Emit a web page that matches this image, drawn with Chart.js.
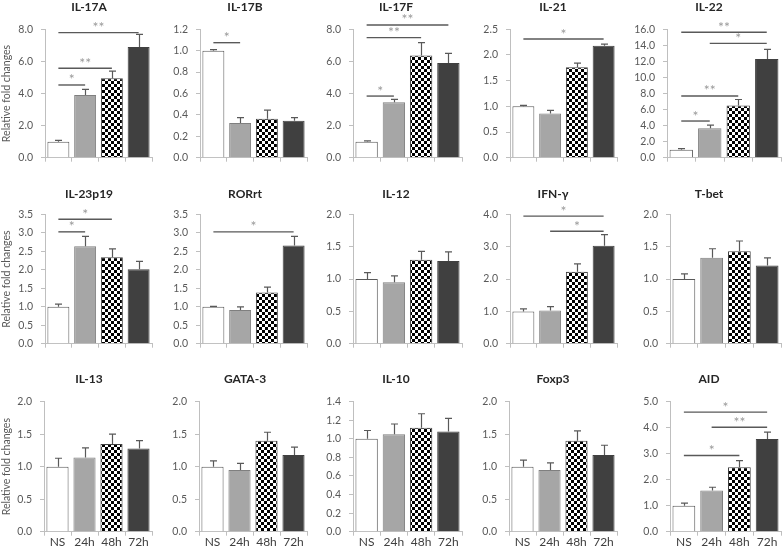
<!DOCTYPE html>
<html><head><meta charset="utf-8">
<script src="https://cdn.jsdelivr.net/npm/chart.js@4"></script>
<style>
html,body{margin:0;padding:0;background:#fff;}
body{width:784px;height:546px;overflow:hidden;position:relative;}
canvas{position:absolute;}
</style></head>
<body>
<script>
// ---------------- DATA ----------------
const categories = ['NS', '24h', '48h', '72h'];
const genes = ['IL-17A','IL-17B','IL-17F','IL-21','IL-22',
               'IL-23p19','RORrt','IL-12','IFN-γ','T-bet',
               'IL-13','GATA-3','IL-10','Foxp3','AID'];
const yMax  = [8, 1.2, 8, 2.5, 16,  3.5, 3.5, 2, 4, 2,  2, 2, 1.4, 2, 5];
const yStep = [2, 0.2, 2, 0.5, 2,   0.5, 0.5, 0.5, 1, 0.5,  0.5, 0.5, 0.2, 0.5, 1];
const means = [
  [1.00, 3.90, 4.95, 6.90],
  [1.00, 0.325, 0.365, 0.345],
  [1.00, 3.45, 6.37, 5.90],
  [1.00, 0.86, 1.76, 2.18],
  [1.00, 3.66, 6.50, 12.30],
  [1.00, 2.64, 2.34, 2.02],
  [1.00, 0.91, 1.39, 2.66],
  [1.00, 0.95, 1.30, 1.28],
  [1.00, 1.03, 2.23, 3.03],
  [1.00, 1.33, 1.43, 1.21],
  [1.00, 1.14, 1.35, 1.28],
  [1.00, 0.95, 1.40, 1.18],
  [1.00, 1.05, 1.12, 1.08],
  [1.00, 0.95, 1.40, 1.18],
  [1.00, 1.58, 2.48, 3.57]
];
const errors = [
  [0.08, 0.36, 0.45, 0.79],
  [0.01, 0.05, 0.08, 0.03],
  [0.05, 0.18, 0.80, 0.60],
  [0.02, 0.06, 0.08, 0.03],
  [0.12, 0.40, 0.75, 1.20],
  [0.07, 0.27, 0.23, 0.21],
  [0.01, 0.09, 0.14, 0.25],
  [0.10, 0.10, 0.13, 0.14],
  [0.08, 0.12, 0.24, 0.35],
  [0.08, 0.14, 0.16, 0.12],
  [0.13, 0.15, 0.15, 0.12],
  [0.09, 0.10, 0.13, 0.12],
  [0.09, 0.11, 0.15, 0.14],
  [0.10, 0.11, 0.15, 0.15],
  [0.10, 0.13, 0.25, 0.26]
];
// significance brackets: [fromIndex, toIndex, yValue, mark]
const significance = [
  [[0,1,4.53,'*'],[0,2,5.57,'**'],[0,3,7.79,'**']],
  [[0,1,1.075,'*']],
  [[0,1,3.84,'*'],[0,2,7.48,'**'],[0,3,8.27,'**']],
  [[0,3,2.31,'*']],
  [[0,1,4.57,'*'],[0,2,7.69,'**'],[1,3,14.25,'*'],[0,3,15.63,'**']],
  [[0,1,3.03,'*'],[0,2,3.37,'*']],
  [[0,3,3.03,'*']],
  [],
  [[0,3,3.95,'*'],[1,3,3.48,'*']],
  [],
  [],
  [],
  [],
  [],
  [[0,2,2.93,'*'],[1,3,4.02,'**'],[0,3,4.6,'*']]
];
const yTitle = 'Relative fold changes';

// ---------------- LAYOUT ----------------
const rowTop = [0, 180, 360];
const rowH = [180, 180, 186];
const plotTopRel = [29.3, 34.5, 41.7];
const plotBotRel = [157.7, 163.7, 171.7];
const titleYRel = [7.5, 14, 19];
const axisXs = [[45,200,353,510,667],[45,200,353,510,670],[44,199,353,509,670]];
const rightXs = [152, 307, 462, 617, 781];
const titleCX = [89, 245, 396, 553, 709];

function makeChecker() {
  const c = document.createElement('canvas');
  c.width = 6; c.height = 6;
  const g = c.getContext('2d');
  g.fillStyle = '#ffffff'; g.fillRect(0,0,6,6);
  g.fillStyle = '#000000'; g.fillRect(0,0,3,3); g.fillRect(3,3,3,3);
  return g.createPattern(c, 'repeat');
}

const annotPlugin = {
  id: 'annot',
  afterDatasetsDraw(chart) {
    const o = chart.options.plugins.annot;
    const ctx = chart.ctx, xs = chart.scales.x, ys = chart.scales.y;
    ctx.save();
    // error bars
    ctx.strokeStyle = '#595959'; ctx.lineWidth = 1.2;
    o.means.forEach((m, i) => {
      const px = Math.round(xs.getPixelForValue(i)) + 0.5;
      const y0 = ys.getPixelForValue(m), y1 = ys.getPixelForValue(m + o.errs[i]);
      ctx.beginPath();
      ctx.moveTo(px, y0); ctx.lineTo(px, y1);
      ctx.moveTo(px - 3.5, y1); ctx.lineTo(px + 3.5, y1);
      ctx.stroke();
    });
    // significance brackets
    o.sigs.forEach(([a, b, v, t]) => {
      const xa = xs.getPixelForValue(a), xb = xs.getPixelForValue(b), py = ys.getPixelForValue(v);
      ctx.strokeStyle = '#595959'; ctx.lineWidth = 1.4;
      ctx.beginPath(); ctx.moveTo(xa, py); ctx.lineTo(xb, py); ctx.stroke();
      ctx.fillStyle = '#9a9a9a'; ctx.font = '14px Lato';
      ctx.textAlign = 'center'; ctx.textBaseline = 'alphabetic';
      ctx.fillText(t, (xa + xb) / 2, py - 0.5);
    });
    // panel title
    ctx.fillStyle = '#262626'; ctx.font = 'bold 12px Lato';
    ctx.textAlign = 'center'; ctx.textBaseline = 'middle';
    ctx.fillText(o.title, o.titleX, o.titleY);
    ctx.restore();
  }
};

const pattern = makeChecker();

genes.forEach((gene, k) => {
  const r = Math.floor(k / 5), c = k % 5;
  const axisX = axisXs[r][c];
  const yw = c === 0 ? axisX : 40;
  const left = axisX - yw;
  const padR = 3;
  const W = rightXs[c] - left + padR;
  const H = rowH[r];
  const cv = document.createElement('canvas');
  cv.width = W; cv.height = H;
  cv.style.left = left + 'px'; cv.style.top = rowTop[r] + 'px';
  cv.style.width = W + 'px'; cv.style.height = H + 'px';
  document.body.appendChild(cv);
  const xh = H - plotBotRel[r];
  new Chart(cv, {
    type: 'bar',
    data: {
      labels: categories,
      datasets: [{
        data: means[k],
        backgroundColor: ['#ffffff', '#a6a6a6', pattern, '#404040'],
        borderColor: ['#595959', '#7f7f7f', '#404040', '#404040'],
        borderWidth: 1,
        barPercentage: 0.82,
        categoryPercentage: 1.0
      }]
    },
    plugins: [annotPlugin],
    options: {
      responsive: false,
      animation: false,
      devicePixelRatio: 1,
      layout: { padding: { top: plotTopRel[r], right: padR, left: 0, bottom: 0 } },
      plugins: {
        legend: { display: false },
        tooltip: { enabled: false },
        title: { display: false },
        annot: {
          means: means[k], errs: errors[k], sigs: significance[k],
          title: gene, titleX: titleCX[c] - left, titleY: titleYRel[r]
        }
      },
      scales: {
        x: {
          offset: true,
          grid: { display: true, drawOnChartArea: false, drawTicks: true, tickLength: 4, color: '#bfbfbf' },
          border: { display: true, color: '#bfbfbf', width: 1 },
          ticks: { display: r === 2, color: '#404040', font: { family: 'Lato', size: 12 }, padding: -1, maxRotation: 0, autoSkip: false },
          afterFit(s) { s.height = xh; }
        },
        y: {
          min: 0, max: yMax[k],
          grid: { display: true, drawOnChartArea: false, drawTicks: true, tickLength: 4, color: '#bfbfbf' },
          border: { display: true, color: '#bfbfbf', width: 1 },
          ticks: { stepSize: yStep[k], color: '#595959', font: { family: 'Lato', size: 10.5 }, padding: 8,
                   callback: v => Number(v).toFixed(1) },
          title: { display: c === 0, text: yTitle, color: '#595959', font: { family: 'Lato', size: 10.5 }, padding: { top: 0, bottom: 0 } },
          afterFit(s) { s.width = yw; }
        }
      }
    }
  });
});
</script>
</body></html>
